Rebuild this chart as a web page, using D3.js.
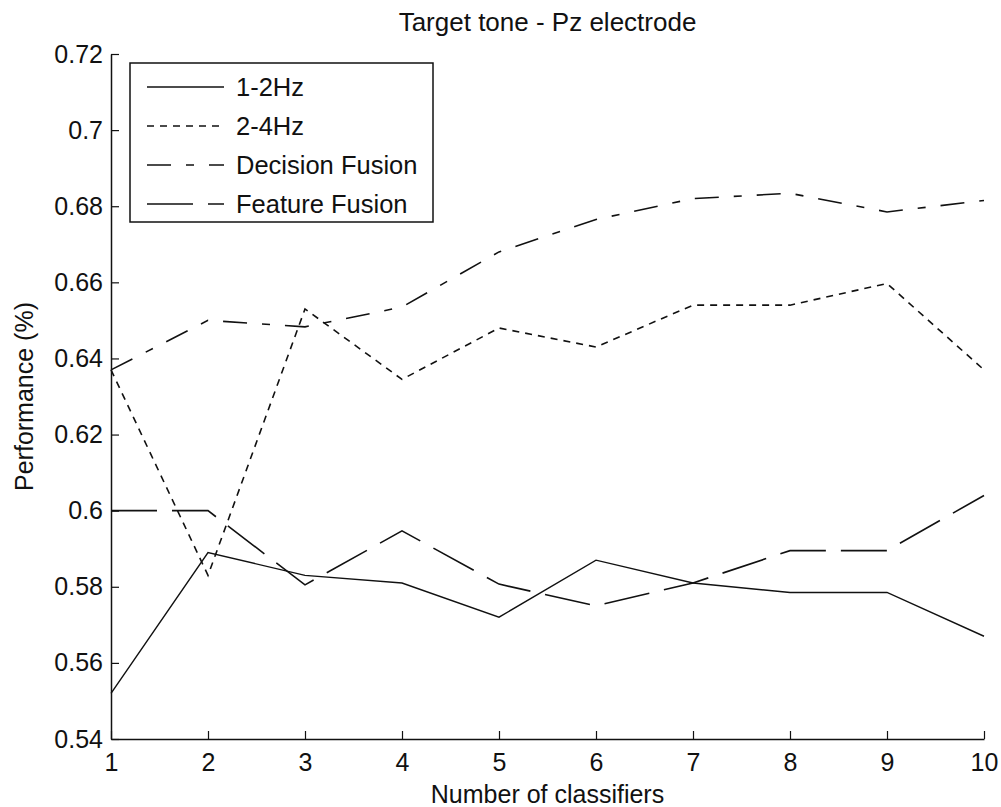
<!DOCTYPE html>
<html>
<head>
<meta charset="utf-8">
<script src="https://cdn.jsdelivr.net/npm/d3@7"></script>
<style>
  body { margin: 0; background: #fff; }
  text { font-family: "Liberation Sans", Arial, Helvetica, sans-serif; fill: #111; }
</style>
</head>
<body>
<script>
// data
const classifiers = [1, 2, 3, 4, 5, 6, 7, 8, 9, 10];
const hz12 = [0.552, 0.589, 0.583, 0.581, 0.572, 0.587, 0.581, 0.5785, 0.5785, 0.567];
const hz24 = [0.637, 0.583, 0.653, 0.6345, 0.648, 0.643, 0.654, 0.654, 0.6597, 0.637];
const decisionFusion = [0.637, 0.650, 0.6483, 0.6535, 0.668, 0.6765, 0.682, 0.6834, 0.6785, 0.6815];
const featureFusion = [0.600, 0.600, 0.5805, 0.5947, 0.5807, 0.575, 0.581, 0.5895, 0.5895, 0.604];
const seriesNames = ["1-2Hz", "2-4Hz", "Decision Fusion", "Feature Fusion"];
const yTicks = [0.54, 0.56, 0.58, 0.6, 0.62, 0.64, 0.66, 0.68, 0.7, 0.72];
const yTickLabels = ["0.54", "0.56", "0.58", "0.6", "0.62", "0.64", "0.66", "0.68", "0.7", "0.72"];

// line styles, matlab-ish
const dashes = [null, "7,6", "24,15,8,15", "46,15"];
const allSeries = [hz12, hz24, decisionFusion, featureFusion];

const canvWidth = 1001, canvHeight = 807;
const svg = d3.select("body").append("svg")
    .attr("width", canvWidth)
    .attr("height", canvHeight);

const margin = {top: 54, right: 17, bottom: 68, left: 111};
const width = canvWidth - margin.left - margin.right;
const height = canvHeight - margin.top - margin.bottom;

const g = svg.append("g")
    .attr("transform", "translate(" + margin.left + "," + margin.top + ")");

const xScale = d3.scaleLinear().domain([1, 10]).range([0, width]);
const yScale = d3.scaleLinear().domain([0.54, 0.72]).range([height, 0]);

// axes, ticks pointing inwards
const xAxis = d3.axisBottom(xScale)
    .tickValues(classifiers)
    .tickFormat(d => d)
    .tickSizeInner(-8).tickSizeOuter(0).tickPadding(14);
const yAxis = d3.axisLeft(yScale)
    .tickValues(yTicks)
    .tickFormat((d, i) => yTickLabels[i])
    .tickSizeInner(-8).tickSizeOuter(0).tickPadding(8);

const gx = g.append("g")
    .attr("transform", "translate(0," + height + ")")
    .call(xAxis);
const gy = g.append("g").call(yAxis);

[gx, gy].forEach(a => {
    a.select(".domain").attr("stroke", "#111").attr("stroke-width", 1.5);
    a.selectAll(".tick line").attr("stroke", "#111").attr("stroke-width", 1.2);
    a.selectAll(".tick text")
        .attr("font-size", "25px")
        .attr("font-family", "Liberation Sans, Arial, sans-serif")
        .attr("fill", "#111");
});

// lines
const line = d3.line()
    .x((d, i) => xScale(classifiers[i]))
    .y(d => yScale(d));

allSeries.forEach((s, k) => {
    g.append("path")
        .datum(s)
        .attr("fill", "none")
        .attr("stroke", "#111")
        .attr("stroke-width", k == 0 ? 1.4 : 1.6)
        .attr("stroke-dasharray", dashes[k])
        .attr("d", line);
});

// legend
const legend = svg.append("g").attr("transform", "translate(130,63)");
legend.append("rect")
    .attr("width", 303)
    .attr("height", 159)
    .attr("fill", "#fff")
    .attr("stroke", "#111")
    .attr("stroke-width", 1.5);

seriesNames.forEach((name, k) => {
    const yy = 24 + k * 39;
    legend.append("line")
        .attr("x1", 17).attr("x2", 94)
        .attr("y1", yy).attr("y2", yy)
        .attr("stroke", "#111")
        .attr("stroke-width", k == 0 ? 1.4 : 1.6)
        .attr("stroke-dasharray", dashes[k]);
    legend.append("text")
        .attr("x", 106)
        .attr("y", yy)
        .attr("dy", "0.36em")
        .attr("font-size", "25.5px")
        .text(name);
});

// title
svg.append("text")
    .attr("x", margin.left + width / 2)
    .attr("y", 31)
    .attr("font-size", "26px")
    .style("text-anchor", "middle")
    .text("Target tone - Pz electrode");

// x axis label
svg.append("text")
    .attr("x", margin.left + width / 2)
    .attr("y", 803)
    .attr("font-size", "25px")
    .style("text-anchor", "middle")
    .text("Number of classifiers");

// y axis label
svg.append("text")
    .attr("transform", "rotate(-90)")
    .attr("x", -(margin.top + height / 2))
    .attr("y", 33)
    .attr("font-size", "25px")
    .style("text-anchor", "middle")
    .text("Performance (%)");
</script>
</body>
</html>
